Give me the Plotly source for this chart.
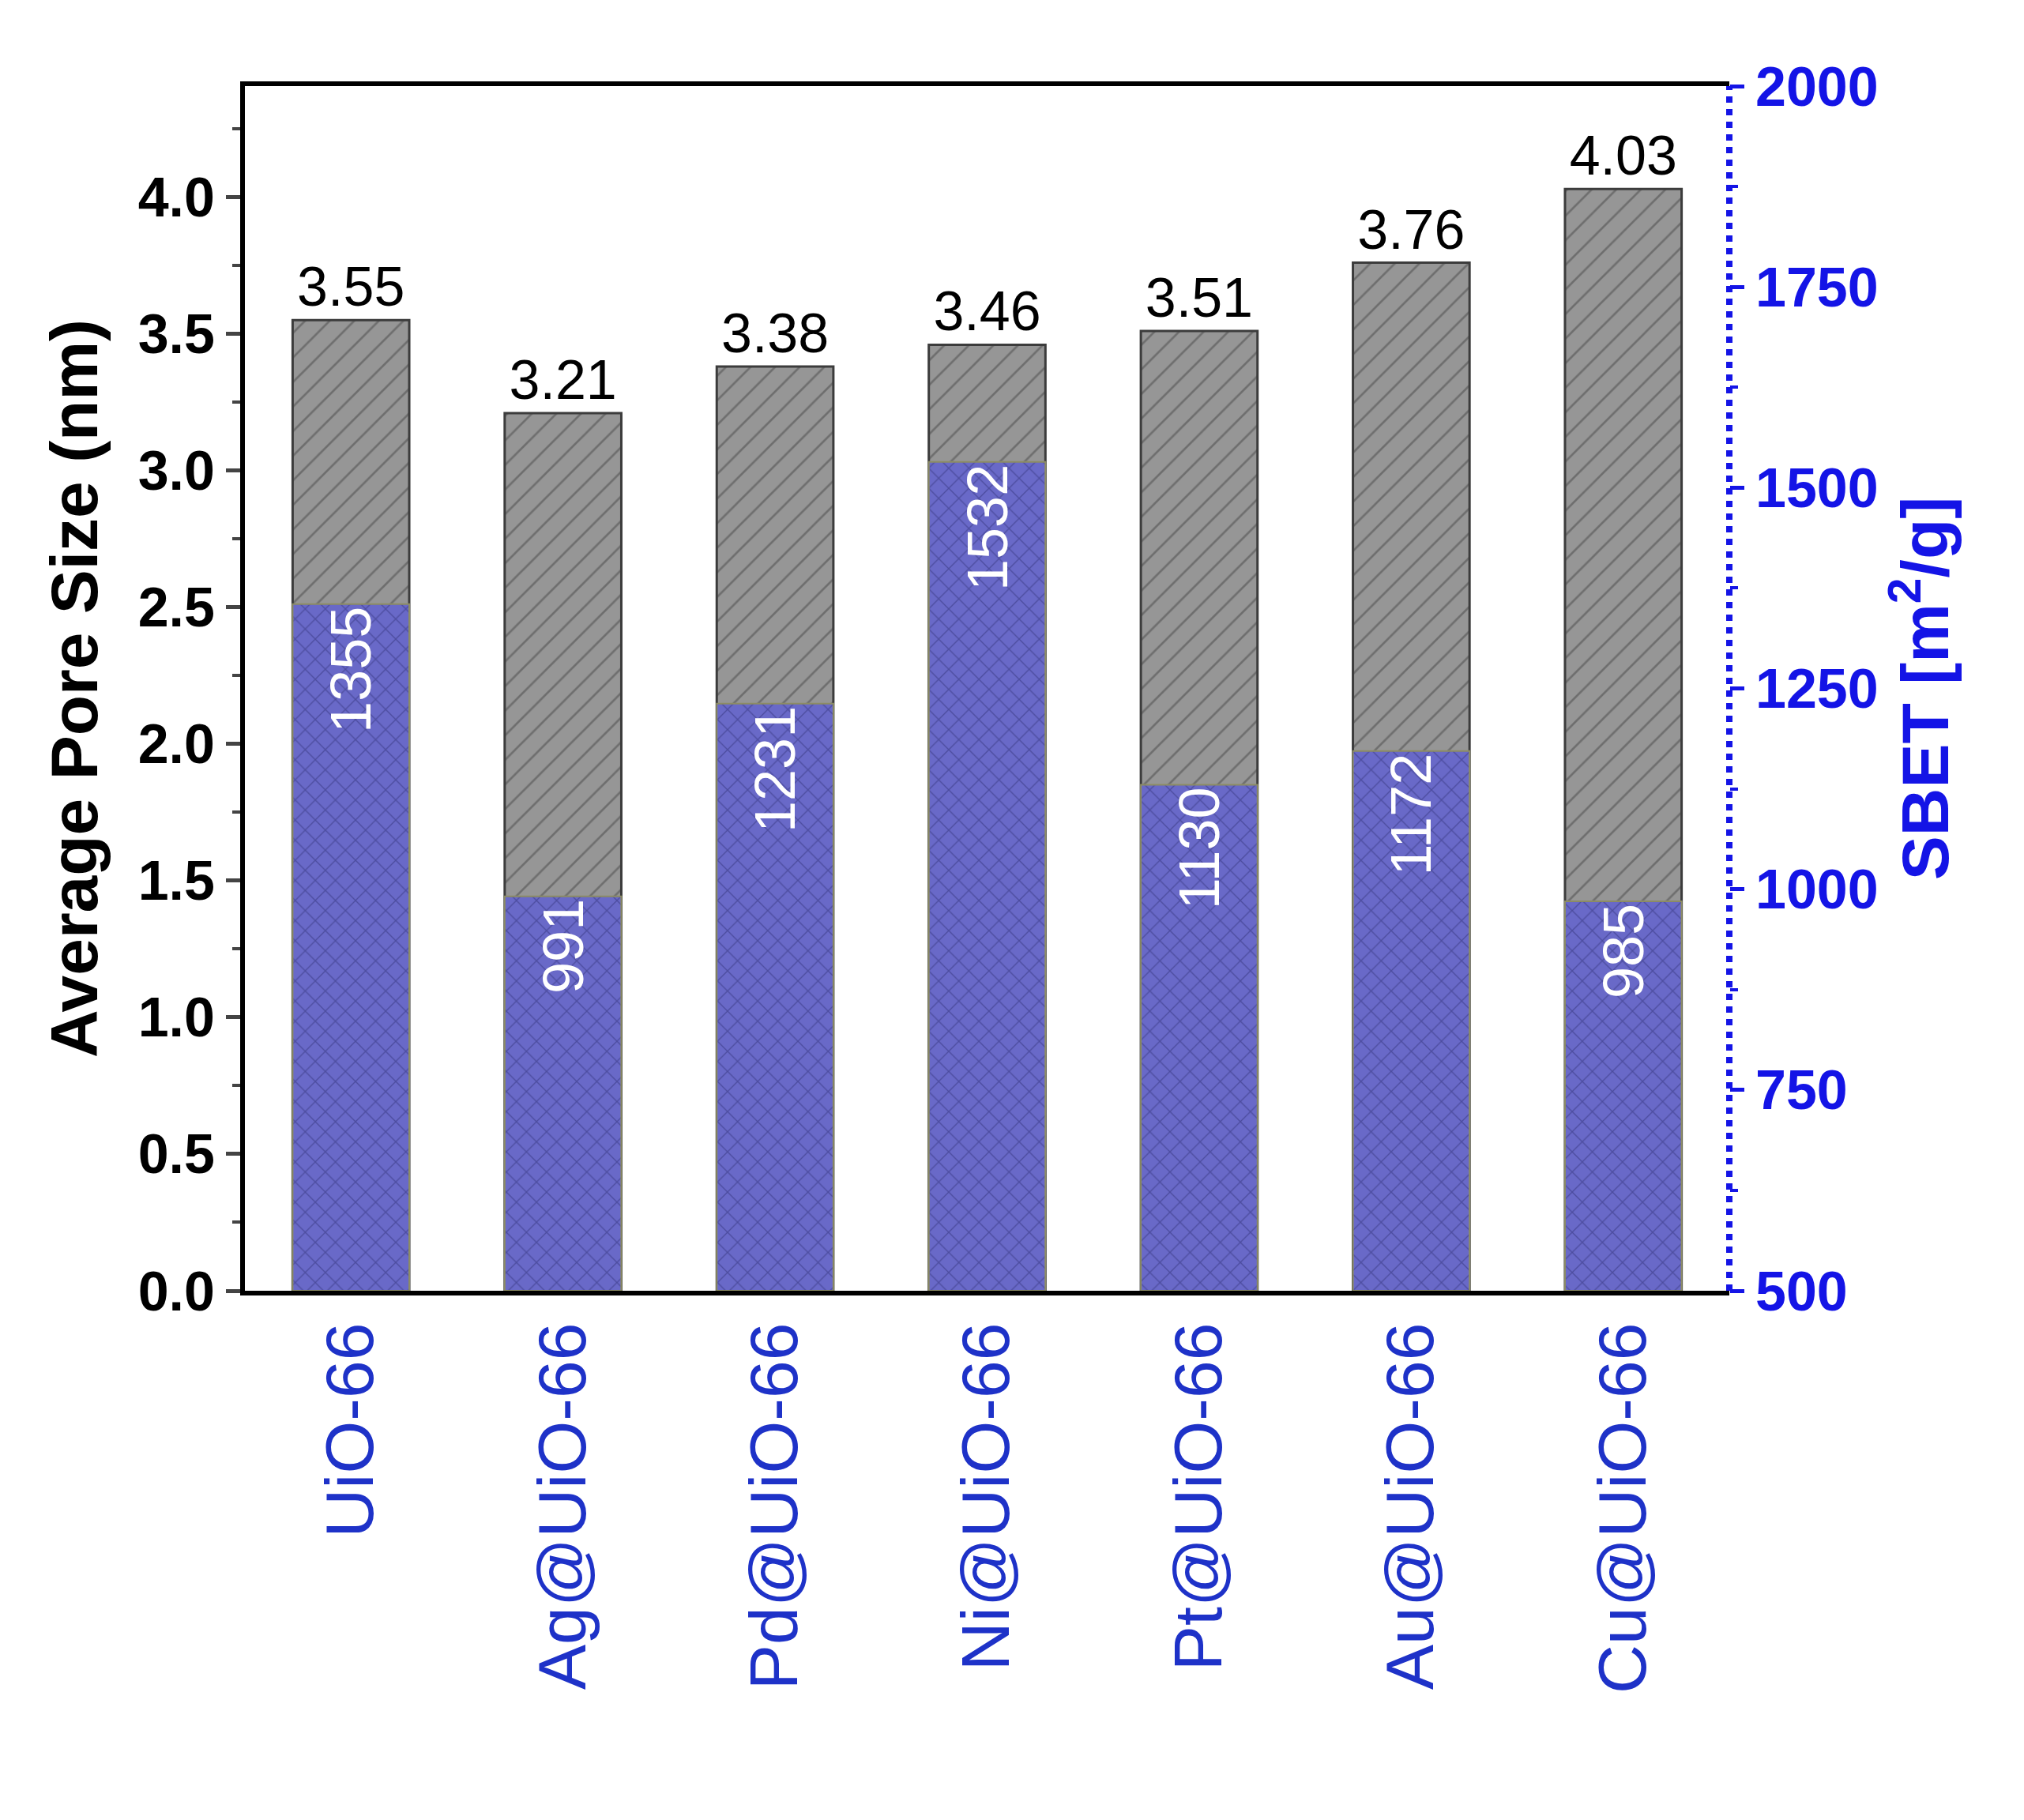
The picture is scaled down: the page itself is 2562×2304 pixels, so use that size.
import plotly.graph_objects as go

categories = ["UiO-66", "Ag@UiO-66", "Pd@UiO-66", "Ni@UiO-66", "Pt@UiO-66", "Au@UiO-66", "Cu@UiO-66"]
pore_size = [3.55, 3.21, 3.38, 3.46, 3.51, 3.76, 4.03]
sbet = [1355, 991, 1231, 1532, 1130, 1172, 985]

fig = go.Figure()
fig.add_trace(go.Bar(
    x=categories, y=pore_size, yaxis="y", width=0.55,
    marker=dict(color="rgb(150,150,150)", line=dict(color="rgb(60,60,60)", width=3),
                pattern=dict(shape="/", fgcolor="rgb(70,70,70)", size=22, solidity=0.12)),
    text=[f"{v:.2f}" for v in pore_size], textposition="outside",
    textfont=dict(size=70, color="black", family="Liberation Sans"), cliponaxis=False,
))
fig.add_trace(go.Bar(
    x=categories, y=[v - 500 for v in sbet], base=500, yaxis="y2", width=0.55,
    marker=dict(color="rgb(105,105,200)", line=dict(color="rgb(140,140,100)", width=2),
                pattern=dict(shape="x", fgcolor="rgb(50,50,120)", size=18, solidity=0.15)),
    text=[str(v) for v in sbet], textposition="inside", insidetextanchor="end", textangle=-90,
    textfont=dict(size=72, color="white", family="Liberation Sans"),
))
fig.update_layout(
    width=2562, height=2304, barmode="overlay", showlegend=False,
    plot_bgcolor="white", paper_bgcolor="white",
    margin=dict(l=302, r=381, t=101, b=678),
    font=dict(family="Liberation Sans"),
    xaxis=dict(tickangle=-90, tickfont=dict(size=86, color="rgb(30,50,200)"),
               showline=True, linecolor="black", linewidth=6, mirror=True, ticks=""),
    yaxis=dict(range=[0, 4.406], dtick=0.5, tickformat=".1f",
               tickfont=dict(size=70, color="black", weight="bold"),
               title=dict(text="Average Pore Size (nm)", font=dict(size=84, color="black", weight="bold"), standoff=25),
               showline=True, linecolor="black", linewidth=6, ticks="outside", ticklen=18, tickwidth=5,
               minor=dict(ticks="outside", ticklen=10, tickwidth=4, dtick=0.25),
               showgrid=False, zeroline=False),
    yaxis2=dict(overlaying="y", side="right", range=[500, 2000], dtick=250,
                tickfont=dict(size=70, color="rgb(20,20,230)", weight="bold"),
                title=dict(text="SBET [m<sup>2</sup>/g]", font=dict(size=84, color="rgb(20,20,230)", weight="bold"), standoff=25),
                showline=False, ticks="outside", ticklen=18, tickwidth=5, tickcolor="rgb(20,20,230)",
                minor=dict(ticks="outside", ticklen=10, tickwidth=4, dtick=125, tickcolor="rgb(20,20,230)"),
                showgrid=False, zeroline=False),
)
fig.add_shape(type="line", xref="paper", yref="paper", x0=1, x1=1, y0=0, y1=1,
              line=dict(color="rgb(20,20,230)", width=8, dash="dot"))
fig.write_html("out.html")
